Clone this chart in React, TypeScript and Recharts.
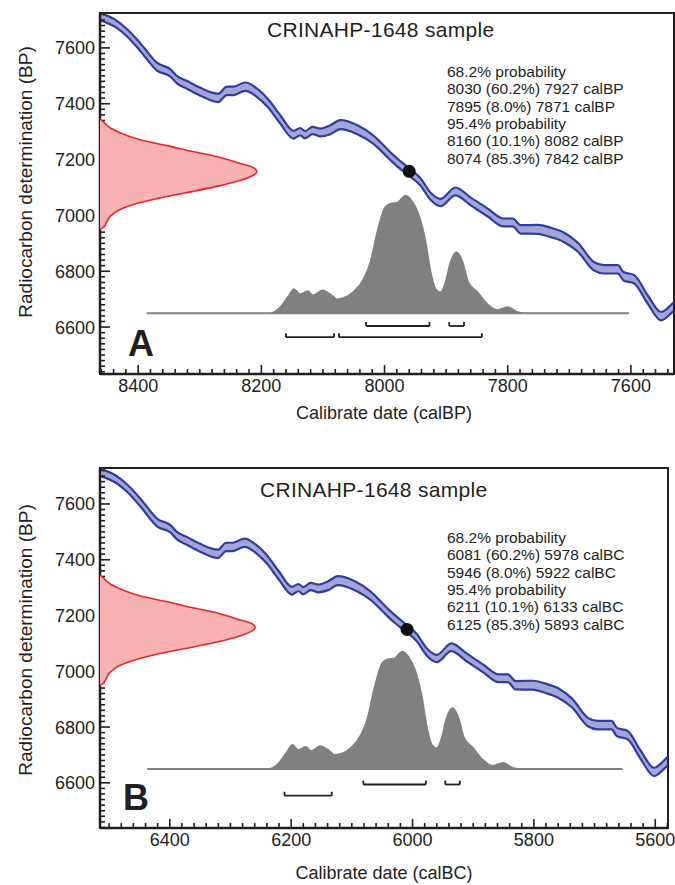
import React from 'react'
import {
  ComposedChart,
  Area,
  Line,
  XAxis,
  YAxis,
  ReferenceLine,
  ReferenceDot,
  ReferenceArea,
} from 'recharts'

const INK = '#231f20'
const FONT = '"Liberation Sans", Arial, Helvetica, sans-serif'
const BAND_FILL = '#a2a5d7'
const BAND_LINE = '#2f3e9e'
const BC_OFFSET = 1949

// calibration curve (calBP) with the edges of its band, in BP
const calDates = [8462, 8438, 8418, 8397, 8369, 8348, 8337, 8321, 8299, 8270, 8256, 8246, 8226, 8207, 8190, 8169, 8148, 8137, 8129, 8117, 8104, 8088, 8072, 8044, 8018, 7990, 7979, 7961, 7942, 7925, 7909, 7885, 7860, 7833, 7807, 7792, 7779, 7751, 7730, 7709, 7686, 7660, 7644, 7621, 7612, 7595, 7573, 7551, 7535, 7527]
const calLower = [7699, 7676, 7641, 7590, 7518, 7498, 7473, 7454, 7429, 7406, 7431, 7431, 7446, 7424, 7389, 7328, 7275, 7287, 7276, 7291, 7283, 7291, 7309, 7291, 7256, 7197, 7175, 7144, 7108, 7055, 7033, 7072, 7036, 6997, 6961, 6961, 6935, 6934, 6922, 6905, 6870, 6803, 6792, 6792, 6767, 6757, 6685, 6624, 6649, 6667]
const calUpper = [7725, 7702, 7667, 7618, 7546, 7524, 7499, 7482, 7457, 7436, 7461, 7461, 7476, 7454, 7419, 7358, 7303, 7313, 7302, 7317, 7311, 7323, 7341, 7323, 7286, 7225, 7203, 7170, 7134, 7081, 7059, 7100, 7064, 7025, 6989, 6989, 6965, 6966, 6956, 6939, 6902, 6833, 6822, 6822, 6797, 6787, 6715, 6654, 6679, 6697]

// calibrated probability (grey), top edge drawn in BP units above a base level
const probDates = [8386, 8186, 8169, 8156, 8147, 8137, 8125, 8116, 8101, 8088, 8077, 8067, 8051, 8034, 8023, 8012, 7999, 7990, 7979, 7966, 7955, 7942, 7934, 7925, 7917, 7909, 7901, 7893, 7883, 7873, 7864, 7849, 7833, 7817, 7800, 7784, 7774, 7603]
const probLevels = [6650, 6650, 6672, 6711, 6736, 6718, 6729, 6714, 6732, 6718, 6700, 6704, 6725, 6772, 6832, 6939, 7029, 7043, 7046, 7071, 7050, 6986, 6914, 6797, 6736, 6725, 6761, 6832, 6868, 6832, 6761, 6725, 6682, 6661, 6672, 6654, 6650, 6650]
const probBase = 6646

// radiocarbon measurement (red), relative density
const c14Ages = [7345, 7336, 7314, 7296, 7271, 7250, 7229, 7211, 7186, 7172, 7157, 7143, 7125, 7104, 7086, 7068, 7046, 7021, 6996, 6957, 6950]
const c14Density = [0, 0.02, 0.064, 0.127, 0.255, 0.427, 0.592, 0.745, 0.892, 0.975, 1, 0.975, 0.892, 0.745, 0.592, 0.427, 0.255, 0.127, 0.064, 0.02, 0]

const rangesBP68 = [[8030, 7927], [7895, 7871]]
const rangesBP95 = [[8160, 8082], [8074, 7842]]
const rangesBC68 = [[6081, 5978], [5946, 5922]]
const rangesBC95 = [[6211, 6133]]

const textBP = ['68.2% probability', '8030 (60.2%) 7927 calBP', '7895 (8.0%) 7871 calBP', '95.4% probability', '8160 (10.1%) 8082 calBP', '8074 (85.3%) 7842 calBP']
const textBC = ['68.2% probability', '6081 (60.2%) 5978 calBC', '5946 (8.0%) 5922 calBC', '95.4% probability', '6211 (10.1%) 6133 calBC', '6125 (85.3%) 5893 calBC']

const yMajor = [6600, 6800, 7000, 7200, 7400, 7600]
const xMajorBP = [8400, 8200, 8000, 7800, 7600]
const xMajorBC = [6400, 6200, 6000, 5800, 5600]

const steps = (from: number, to: number, step: number) => {
  const out: number[] = []
  for (let v = from; v <= to; v += step) out.push(v)
  return out
}

const YTick = (props: any) => {
  const { x, y, payload } = props
  const major = yMajor.includes(payload.value)
  return (
    <g>
      <line x1={x} x2={x + (major ? 10 : 5)} y1={y} y2={y} stroke={INK} strokeWidth={1.6} />
      {major && (
        <text x={x - 5} y={y + 6.5} textAnchor="end" fontSize={18} fill={INK} fontFamily={FONT}>
          {payload.value}
        </text>
      )}
    </g>
  )
}

const makeXTick = (majors: number[]) => (props: any) => {
  const { x, y, payload } = props
  const major = majors.includes(payload.value)
  return (
    <g>
      <line x1={x} x2={x} y1={y} y2={y - (major ? 9 : 5)} stroke={INK} strokeWidth={1.6} />
      {major && (
        <text x={x} y={y + 18} textAnchor="middle" fontSize={18} fill={INK} fontFamily={FONT}>
          {payload.value}
        </text>
      )}
    </g>
  )
}

type PanelProps = {
  top: number
  height: number
  axisH: number
  right: number
  xDomain: [number, number]
  yDomain: [number, number]
  shift: number
  xMajor: number[]
  r68: number[][]
  r95: number[][]
  lvl68: number
  lvl95: number
  dot: [number, number]
  letter: string
  lines: string[]
  titleX: number
  titleY: number
  linesY: number
  letterX: number
  letterY: number
  yTitleY: number
  xTitle: string
  xTitleY: number
}

function Bracket({ a, b, lvl }: { a: number; b: number; lvl: number }) {
  const s = { stroke: INK, strokeWidth: 1.8 }
  return (
    <>
      <ReferenceLine segment={[{ x: a, y: lvl + 14 }, { x: a, y: lvl }]} {...s} />
      <ReferenceLine segment={[{ x: a, y: lvl }, { x: b, y: lvl }]} {...s} />
      <ReferenceLine segment={[{ x: b, y: lvl }, { x: b, y: lvl + 14 }]} {...s} />
    </>
  )
}

function Panel(p: PanelProps) {
  const W = 675
  const cal = calDates.map((d, i) => ({ x: d - p.shift, lo: calLower[i], hi: calUpper[i], band: [calLower[i], calUpper[i]] }))
  const prob = probDates.map((d, i) => ({ x: d - p.shift, g: probLevels[i] }))
  const c14 = c14Ages.map((a, i) => ({ bp: a, d: c14Density[i] }))
  const xTicks = steps(Math.ceil(p.xDomain[0] / 20) * 20, p.xDomain[1], 20)
  const yTicks = steps(Math.ceil(p.yDomain[0] / 20) * 20, p.yDomain[1], 20)
  const margin = { top: 13, right: p.right, left: 0, bottom: 0 }
  return (
    <div style={{ position: 'absolute', left: 0, top: p.top, width: W, height: p.height }}>
      <ComposedChart width={W} height={p.height} margin={margin}>
        <XAxis
          type="number"
          dataKey="x"
          domain={p.xDomain}
          reversed
          allowDataOverflow
          ticks={xTicks}
          interval={0}
          height={p.axisH}
          tickSize={0}
          tickMargin={0}
          tickLine={false}
          axisLine={{ stroke: INK, strokeWidth: 2.5 }}
          tick={makeXTick(p.xMajor)}
        />
        <YAxis
          type="number"
          domain={p.yDomain}
          allowDataOverflow
          ticks={yTicks}
          interval={0}
          width={100}
          tickSize={0}
          tickMargin={0}
          tickLine={false}
          axisLine={{ stroke: INK, strokeWidth: 2.5 }}
          tick={YTick}
        />
        <Area data={prob} dataKey="g" type="monotone" baseValue={probBase} fill="#808080" fillOpacity={1} stroke="#808080" strokeWidth={1.6} isAnimationActive={false} dot={false} activeDot={false} />
        <Area data={cal} dataKey="band" type="monotone" fill={BAND_FILL} fillOpacity={1} stroke="none" isAnimationActive={false} dot={false} activeDot={false} />
        <Line data={cal} dataKey="hi" type="monotone" stroke={BAND_LINE} strokeWidth={2.2} dot={false} activeDot={false} isAnimationActive={false} />
        <Line data={cal} dataKey="lo" type="monotone" stroke={BAND_LINE} strokeWidth={2.2} dot={false} activeDot={false} isAnimationActive={false} />
        {p.r68.map(([a, b], i) => <Bracket key={'a' + i} a={a} b={b} lvl={p.lvl68} />)}
        {p.r95.map(([a, b], i) => <Bracket key={'b' + i} a={a} b={b} lvl={p.lvl95} />)}
        <ReferenceDot x={p.dot[0]} y={p.dot[1]} r={6.5} fill="#111" stroke="none" />
        <ReferenceArea x1={p.xDomain[0]} x2={p.xDomain[1]} y1={p.yDomain[0]} y2={p.yDomain[1]} fill="none" stroke={INK} strokeWidth={2} fillOpacity={0} />
      </ComposedChart>
      <div style={{ position: 'absolute', left: 0, top: 0 }}>
        <ComposedChart width={W} height={p.height} layout="vertical" data={c14} margin={{ top: 13, right: p.right, left: 100, bottom: p.axisH }}>
          <XAxis type="number" domain={[0, 3.66]} allowDataOverflow hide />
          <YAxis type="number" dataKey="bp" domain={p.yDomain} reversed allowDataOverflow hide />
          <Area dataKey="d" type="monotone" fill="#f8b2b2" fillOpacity={1} stroke="#e8262b" strokeWidth={1.6} isAnimationActive={false} dot={false} activeDot={false} />
        </ComposedChart>
      </div>
      <svg width={W} height={p.height} style={{ position: 'absolute', left: 0, top: 0, pointerEvents: 'none' }} fontFamily={FONT} fill={INK}>
        <text x={p.titleX} y={p.titleY} fontSize={21} letterSpacing={0.3}>CRINAHP-1648 sample</text>
        {p.lines.map((t, i) => (
          <text key={i} x={447} y={p.linesY + i * 17.3} fontSize={15.5}>{t}</text>
        ))}
        <text x={p.letterX} y={p.letterY} fontSize={36} fontWeight="bold">{p.letter}</text>
        <text x={32} y={p.yTitleY} fontSize={19} textAnchor="middle" transform={`rotate(-90 32 ${p.yTitleY})`}>Radiocarbon determination (BP)</text>
        <text x={384} y={p.xTitleY} fontSize={18} textAnchor="middle">{p.xTitle}</text>
      </svg>
    </div>
  )
}

export default function App() {
  return (
    <div style={{ position: 'absolute', left: 0, top: 0, width: 675, height: 885, background: '#fff', overflow: 'hidden' }}>
      <Panel
        top={0} height={432} axisH={58} right={1}
        xDomain={[7530, 8462]} yDomain={[6432, 7725]} shift={0}
        xMajor={xMajorBP} r68={rangesBP68} r95={rangesBP95} lvl68={6604} lvl95={6564}
        dot={[7960, 7158]} letter="A" lines={textBP}
        titleX={267} titleY={37} linesY={77} letterX={128} letterY={356}
        yTitleY={182} xTitle="Calibrate date (calBP)" xTitleY={419}
      />
      <Panel
        top={455} height={430} axisH={57} right={7}
        xDomain={[5579, 6515]} yDomain={[6438, 7729]} shift={BC_OFFSET}
        xMajor={xMajorBC} r68={rangesBC68} r95={rangesBC95} lvl68={6594} lvl95={6554}
        dot={[6009, 7150]} letter="B" lines={textBC}
        titleX={260} titleY={42} linesY={88} letterX={123} letterY={355}
        yTitleY={185} xTitle="Calibrate date (calBC)" xTitleY={424}
      />
    </div>
  )
}
